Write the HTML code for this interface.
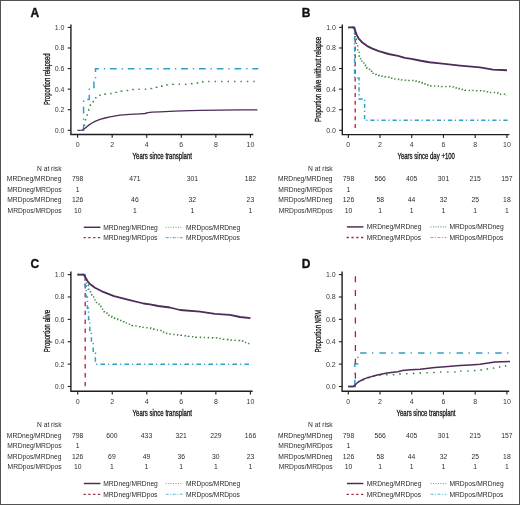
<!DOCTYPE html>
<html><head><meta charset="utf-8"><title>Figure</title>
<style>
html,body{margin:0;padding:0;background:#fff;}
svg{display:block;font-family:"Liberation Sans", sans-serif;will-change:transform;filter:blur(0.35px);}
</style></head>
<body>
<svg width="520" height="505" viewBox="0 0 520 505">
<rect x="0" y="0" width="520" height="505" fill="#fff"/>
<path d="M70.9 24.4 V134.5 H253.3" fill="none" stroke="#1e1e1e" stroke-width="1.4"/>
<line x1="67.7" y1="130.30" x2="70.9" y2="130.30" stroke="#1e1e1e" stroke-width="1.1"/>
<text x="64.5" y="132.70" font-size="7" text-anchor="end" fill="#383838" font-weight="normal">0.0</text>
<line x1="67.7" y1="109.72" x2="70.9" y2="109.72" stroke="#1e1e1e" stroke-width="1.1"/>
<text x="64.5" y="112.12" font-size="7" text-anchor="end" fill="#383838" font-weight="normal">0.2</text>
<line x1="67.7" y1="89.14" x2="70.9" y2="89.14" stroke="#1e1e1e" stroke-width="1.1"/>
<text x="64.5" y="91.54" font-size="7" text-anchor="end" fill="#383838" font-weight="normal">0.4</text>
<line x1="67.7" y1="68.56" x2="70.9" y2="68.56" stroke="#1e1e1e" stroke-width="1.1"/>
<text x="64.5" y="70.96" font-size="7" text-anchor="end" fill="#383838" font-weight="normal">0.6</text>
<line x1="67.7" y1="47.98" x2="70.9" y2="47.98" stroke="#1e1e1e" stroke-width="1.1"/>
<text x="64.5" y="50.38" font-size="7" text-anchor="end" fill="#383838" font-weight="normal">0.8</text>
<line x1="67.7" y1="27.40" x2="70.9" y2="27.40" stroke="#1e1e1e" stroke-width="1.1"/>
<text x="64.5" y="29.80" font-size="7" text-anchor="end" fill="#383838" font-weight="normal">1.0</text>
<line x1="77.60" y1="134.5" x2="77.60" y2="137.8" stroke="#1e1e1e" stroke-width="1.1"/>
<text x="77.60" y="147.10" font-size="7" text-anchor="middle" fill="#383838" font-weight="normal">0</text>
<line x1="112.16" y1="134.5" x2="112.16" y2="137.8" stroke="#1e1e1e" stroke-width="1.1"/>
<text x="112.16" y="147.10" font-size="7" text-anchor="middle" fill="#383838" font-weight="normal">2</text>
<line x1="146.72" y1="134.5" x2="146.72" y2="137.8" stroke="#1e1e1e" stroke-width="1.1"/>
<text x="146.72" y="147.10" font-size="7" text-anchor="middle" fill="#383838" font-weight="normal">4</text>
<line x1="181.28" y1="134.5" x2="181.28" y2="137.8" stroke="#1e1e1e" stroke-width="1.1"/>
<text x="181.28" y="147.10" font-size="7" text-anchor="middle" fill="#383838" font-weight="normal">6</text>
<line x1="215.84" y1="134.5" x2="215.84" y2="137.8" stroke="#1e1e1e" stroke-width="1.1"/>
<text x="215.84" y="147.10" font-size="7" text-anchor="middle" fill="#383838" font-weight="normal">8</text>
<line x1="250.40" y1="134.5" x2="250.40" y2="137.8" stroke="#1e1e1e" stroke-width="1.1"/>
<text x="250.40" y="147.10" font-size="7" text-anchor="middle" fill="#383838" font-weight="normal">10</text>
<text x="30.6" y="17.3" font-size="12" text-anchor="start" fill="#111" font-weight="bold" stroke="#111" stroke-width="0.35">A</text>
<text transform="translate(49.9 79.3) rotate(-90)" x="0" y="0" font-size="9" text-anchor="middle" fill="#1a1a1a" stroke="#1a1a1a" stroke-width="0.32" textLength="51.5" lengthAdjust="spacingAndGlyphs">Proportion relapsed</text>
<text x="162.3" y="159.3" font-size="8.6" text-anchor="middle" fill="#1a1a1a" stroke="#1a1a1a" stroke-width="0.32" textLength="59.4" lengthAdjust="spacingAndGlyphs">Years since transplant</text>
<path d="M77.50 130.30 L79.08 130.30 L80.65 130.30 L82.22 130.30 L83.80 130.30 L84.50 130.30 L84.50 124.00 L85.50 124.00 L85.50 118.70 L87.20 118.70 L87.20 114.00 L88.80 114.00 L88.80 109.50 L90.40 109.50 L90.40 104.80 L91.85 104.80 L91.85 103.00 L93.30 103.00 L93.30 101.20 L94.55 101.20 L94.55 98.95 L95.80 98.95 L95.80 96.70 L97.47 96.70 L97.47 96.03 L99.13 96.03 L99.13 95.37 L100.80 95.37 L100.80 94.70 L102.37 94.70 L102.37 94.30 L103.93 94.30 L103.93 93.90 L105.50 93.90 L105.50 93.50 L107.03 93.50 L108.55 93.50 L110.07 93.50 L111.60 93.50 L113.23 93.50 L113.23 92.87 L114.87 92.87 L114.87 92.23 L116.50 92.23 L116.50 91.60 L117.85 91.60 L117.85 91.38 L119.20 91.38 L119.20 91.15 L120.55 91.15 L120.55 90.92 L121.90 90.92 L121.90 90.70 L123.38 90.70 L123.38 90.62 L124.85 90.62 L124.85 90.55 L126.33 90.55 L126.33 90.48 L127.80 90.48 L127.80 90.40 L129.22 90.40 L129.22 90.12 L130.65 90.12 L130.65 89.85 L132.07 89.85 L132.07 89.58 L133.50 89.58 L133.50 89.30 L135.07 89.30 L136.65 89.30 L138.22 89.30 L139.80 89.30 L141.38 89.30 L142.95 89.30 L144.53 89.30 L146.10 89.30 L147.47 89.30 L147.47 89.00 L148.85 89.00 L148.85 88.70 L150.22 88.70 L150.22 88.40 L151.60 88.40 L151.60 88.10 L153.33 88.10 L153.33 87.67 L155.07 87.67 L155.07 87.23 L156.80 87.23 L156.80 86.80 L158.50 86.80 L158.50 86.47 L160.20 86.47 L160.20 86.13 L161.90 86.13 L161.90 85.80 L163.25 85.80 L163.25 85.47 L164.60 85.47 L164.60 85.15 L165.95 85.15 L165.95 84.83 L167.30 84.83 L167.30 84.50 L168.85 84.50 L168.85 84.45 L170.40 84.45 L170.40 84.40 L171.95 84.40 L171.95 84.35 L173.50 84.35 L173.50 84.30 L174.93 84.30 L176.37 84.30 L177.80 84.30 L179.23 84.30 L180.67 84.30 L182.10 84.30 L183.53 84.30 L184.97 84.30 L186.40 84.30 L187.81 84.30 L187.81 84.11 L189.22 84.11 L189.22 83.92 L190.64 83.92 L190.64 83.74 L192.05 83.74 L192.05 83.55 L193.46 83.55 L193.46 83.36 L194.88 83.36 L194.88 83.17 L196.29 83.17 L196.29 82.99 L197.70 82.99 L197.70 82.80 L199.43 82.80 L199.43 82.40 L201.17 82.40 L201.17 82.00 L202.90 82.00 L202.90 81.60 L204.41 81.60 L205.91 81.60 L207.42 81.60 L208.92 81.60 L210.43 81.60 L211.93 81.60 L213.44 81.60 L214.95 81.60 L216.45 81.60 L217.96 81.60 L219.46 81.60 L220.97 81.60 L222.47 81.60 L223.98 81.60 L225.49 81.60 L226.99 81.60 L228.50 81.60 L230.00 81.60 L231.51 81.60 L233.01 81.60 L234.52 81.60 L236.03 81.60 L237.53 81.60 L239.04 81.60 L240.54 81.60 L242.05 81.60 L243.55 81.60 L245.06 81.60 L246.57 81.60 L248.07 81.60 L249.58 81.60 L251.08 81.60 L252.59 81.60 L254.09 81.60 L255.60 81.60" fill="none" stroke="#3d863c" stroke-width="1.5" stroke-dasharray="1.4 5.06" stroke-dashoffset="1.51"/>
<path d="M77.50 130.30 L83.60 130.30 L83.60 99.50 L89.30 99.50 L89.30 89.20 L93.90 89.20 L93.90 78.90 L95.50 78.90 L95.50 68.70 L258.30 68.70" fill="none" stroke="#30a0c8" stroke-width="1.5" stroke-dasharray="6.8 4.9 1.3 4.8" stroke-dashoffset="12.80"/>
<path d="M77.50 130.30 L82.20 130.20 L85.00 128.20 L88.40 125.40 L92.00 123.00 L95.00 121.40 L100.00 119.30 L105.00 118.00 L110.00 116.90 L120.00 115.10 L130.00 114.40 L140.00 113.80 L145.00 113.50 L148.00 112.60 L152.00 112.10 L160.00 111.90 L175.00 111.20 L190.00 110.60 L200.00 110.40 L220.00 110.20 L240.00 109.80 L257.40 109.80" fill="none" stroke="#4d2c5a" stroke-width="1.35" stroke-linejoin="round"/>
<text x="61.5" y="170.5" font-size="6.7" text-anchor="end" fill="#2c2c2c" font-weight="normal">N at risk</text>
<text x="61.5" y="181.1" font-size="6.7" text-anchor="end" fill="#2c2c2c" font-weight="normal">MRDneg/MRDneg</text>
<text x="77.70" y="181.1" font-size="6.8" text-anchor="middle" fill="#2c2c2c" font-weight="normal">798</text>
<text x="134.90" y="181.1" font-size="6.8" text-anchor="middle" fill="#2c2c2c" font-weight="normal">471</text>
<text x="192.30" y="181.1" font-size="6.8" text-anchor="middle" fill="#2c2c2c" font-weight="normal">301</text>
<text x="250.40" y="181.1" font-size="6.8" text-anchor="middle" fill="#2c2c2c" font-weight="normal">182</text>
<text x="61.5" y="191.6" font-size="6.7" text-anchor="end" fill="#2c2c2c" font-weight="normal">MRDneg/MRDpos</text>
<text x="77.70" y="191.6" font-size="6.8" text-anchor="middle" fill="#2c2c2c" font-weight="normal">1</text>
<text x="61.5" y="202.1" font-size="6.7" text-anchor="end" fill="#2c2c2c" font-weight="normal">MRDpos/MRDneg</text>
<text x="77.70" y="202.1" font-size="6.8" text-anchor="middle" fill="#2c2c2c" font-weight="normal">126</text>
<text x="134.90" y="202.1" font-size="6.8" text-anchor="middle" fill="#2c2c2c" font-weight="normal">46</text>
<text x="192.30" y="202.1" font-size="6.8" text-anchor="middle" fill="#2c2c2c" font-weight="normal">32</text>
<text x="250.40" y="202.1" font-size="6.8" text-anchor="middle" fill="#2c2c2c" font-weight="normal">23</text>
<text x="61.5" y="212.6" font-size="6.7" text-anchor="end" fill="#2c2c2c" font-weight="normal">MRDpos/MRDpos</text>
<text x="77.70" y="212.6" font-size="6.8" text-anchor="middle" fill="#2c2c2c" font-weight="normal">10</text>
<text x="134.90" y="212.6" font-size="6.8" text-anchor="middle" fill="#2c2c2c" font-weight="normal">1</text>
<text x="192.30" y="212.6" font-size="6.8" text-anchor="middle" fill="#2c2c2c" font-weight="normal">1</text>
<text x="250.40" y="212.6" font-size="6.8" text-anchor="middle" fill="#2c2c2c" font-weight="normal">1</text>
<line x1="83.8" y1="227.3" x2="100.4" y2="227.3" stroke="#4a2a58" stroke-width="1.45"/>
<line x1="83.5" y1="237.6" x2="100.4" y2="237.6" stroke="#a02848" stroke-width="1.3" stroke-dasharray="2.3 2.5"/>
<line x1="165.7" y1="227.3" x2="183" y2="227.3" stroke="#3d863c" stroke-width="1.1" stroke-dasharray="1 1.45" opacity="0.75"/>
<line x1="165.7" y1="237.6" x2="183" y2="237.6" stroke="#30a0c8" stroke-width="1.1" stroke-dasharray="3 1.5 1 1.5" opacity="0.75"/>
<text x="103.2" y="229.70000000000002" font-size="6.7" text-anchor="start" fill="#2a2a2a" font-weight="normal">MRDneg/MRDneg</text>
<text x="103.2" y="240.0" font-size="6.7" text-anchor="start" fill="#2a2a2a" font-weight="normal">MRDneg/MRDpos</text>
<text x="186" y="229.70000000000002" font-size="6.7" text-anchor="start" fill="#2a2a2a" font-weight="normal">MRDpos/MRDneg</text>
<text x="186" y="240.0" font-size="6.7" text-anchor="start" fill="#2a2a2a" font-weight="normal">MRDpos/MRDpos</text>
<path d="M342.3 24.4 V134.6 H509.4" fill="none" stroke="#1e1e1e" stroke-width="1.4"/>
<line x1="339.1" y1="130.30" x2="342.3" y2="130.30" stroke="#1e1e1e" stroke-width="1.1"/>
<text x="335.90000000000003" y="132.70" font-size="7" text-anchor="end" fill="#383838" font-weight="normal">0.0</text>
<line x1="339.1" y1="109.72" x2="342.3" y2="109.72" stroke="#1e1e1e" stroke-width="1.1"/>
<text x="335.90000000000003" y="112.12" font-size="7" text-anchor="end" fill="#383838" font-weight="normal">0.2</text>
<line x1="339.1" y1="89.14" x2="342.3" y2="89.14" stroke="#1e1e1e" stroke-width="1.1"/>
<text x="335.90000000000003" y="91.54" font-size="7" text-anchor="end" fill="#383838" font-weight="normal">0.4</text>
<line x1="339.1" y1="68.56" x2="342.3" y2="68.56" stroke="#1e1e1e" stroke-width="1.1"/>
<text x="335.90000000000003" y="70.96" font-size="7" text-anchor="end" fill="#383838" font-weight="normal">0.6</text>
<line x1="339.1" y1="47.98" x2="342.3" y2="47.98" stroke="#1e1e1e" stroke-width="1.1"/>
<text x="335.90000000000003" y="50.38" font-size="7" text-anchor="end" fill="#383838" font-weight="normal">0.8</text>
<line x1="339.1" y1="27.40" x2="342.3" y2="27.40" stroke="#1e1e1e" stroke-width="1.1"/>
<text x="335.90000000000003" y="29.80" font-size="7" text-anchor="end" fill="#383838" font-weight="normal">1.0</text>
<line x1="348.30" y1="134.6" x2="348.30" y2="137.9" stroke="#1e1e1e" stroke-width="1.1"/>
<text x="348.30" y="147.20" font-size="7" text-anchor="middle" fill="#383838" font-weight="normal">0</text>
<line x1="380.02" y1="134.6" x2="380.02" y2="137.9" stroke="#1e1e1e" stroke-width="1.1"/>
<text x="380.02" y="147.20" font-size="7" text-anchor="middle" fill="#383838" font-weight="normal">2</text>
<line x1="411.74" y1="134.6" x2="411.74" y2="137.9" stroke="#1e1e1e" stroke-width="1.1"/>
<text x="411.74" y="147.20" font-size="7" text-anchor="middle" fill="#383838" font-weight="normal">4</text>
<line x1="443.46" y1="134.6" x2="443.46" y2="137.9" stroke="#1e1e1e" stroke-width="1.1"/>
<text x="443.46" y="147.20" font-size="7" text-anchor="middle" fill="#383838" font-weight="normal">6</text>
<line x1="475.18" y1="134.6" x2="475.18" y2="137.9" stroke="#1e1e1e" stroke-width="1.1"/>
<text x="475.18" y="147.20" font-size="7" text-anchor="middle" fill="#383838" font-weight="normal">8</text>
<line x1="506.90" y1="134.6" x2="506.90" y2="137.9" stroke="#1e1e1e" stroke-width="1.1"/>
<text x="506.90" y="147.20" font-size="7" text-anchor="middle" fill="#383838" font-weight="normal">10</text>
<text x="301.8" y="17.3" font-size="12" text-anchor="start" fill="#111" font-weight="bold" stroke="#111" stroke-width="0.35">B</text>
<text transform="translate(321.0 79.4) rotate(-90)" x="0" y="0" font-size="9" text-anchor="middle" fill="#1a1a1a" stroke="#1a1a1a" stroke-width="0.32" textLength="85" lengthAdjust="spacingAndGlyphs">Proportion alive without relapse</text>
<text x="426.2" y="159.3" font-size="8.6" text-anchor="middle" fill="#1a1a1a" stroke="#1a1a1a" stroke-width="0.32" textLength="57.5" lengthAdjust="spacingAndGlyphs">Years since day +100</text>
<path d="M348.30 27.40 L355.20 27.40 L355.20 130.30" fill="none" stroke="#b51a40" stroke-width="1.3" stroke-dasharray="4 3.75" stroke-dashoffset="5.00"/>
<path d="M348.30 27.40 L349.68 27.40 L351.05 27.40 L352.43 27.40 L353.80 27.40 L354.50 27.40 L354.50 33.00 L355.30 33.00 L355.30 39.00 L356.30 39.00 L356.30 45.00 L357.70 45.00 L357.70 50.60 L359.10 50.60 L359.10 55.90 L360.60 55.90 L360.60 59.70 L362.00 59.70 L362.00 62.10 L363.90 62.10 L363.90 65.00 L365.40 65.00 L365.40 67.40 L366.85 67.40 L366.85 68.35 L368.30 68.35 L368.30 69.30 L369.50 69.30 L369.50 70.30 L370.70 70.30 L370.70 71.30 L371.90 71.30 L371.90 72.70 L373.10 72.70 L373.10 74.10 L374.70 74.10 L374.70 74.60 L376.30 74.60 L376.30 75.10 L377.90 75.10 L377.90 75.60 L379.17 75.60 L379.17 75.77 L380.43 75.77 L380.43 75.93 L381.70 75.93 L381.70 76.10 L383.30 76.10 L383.30 76.40 L384.90 76.40 L384.90 76.70 L386.50 76.70 L386.50 77.00 L387.80 77.00 L387.80 77.33 L389.10 77.33 L389.10 77.67 L390.40 77.67 L390.40 78.00 L391.67 78.00 L391.67 78.30 L392.93 78.30 L392.93 78.60 L394.20 78.60 L394.20 78.90 L395.75 78.90 L395.75 79.05 L397.30 79.05 L397.30 79.20 L398.68 79.20 L398.68 79.42 L400.06 79.42 L400.06 79.64 L401.44 79.64 L401.44 79.86 L402.82 79.86 L402.82 80.08 L404.20 80.08 L404.20 80.30 L405.67 80.30 L405.67 80.35 L407.13 80.35 L407.13 80.40 L408.60 80.40 L408.60 80.45 L410.07 80.45 L410.07 80.50 L411.53 80.50 L411.53 80.55 L413.00 80.55 L413.00 80.60 L414.40 80.60 L414.40 80.80 L415.80 80.80 L415.80 81.00 L417.30 81.00 L417.30 81.40 L418.80 81.40 L418.80 81.80 L420.47 81.80 L420.47 82.47 L422.13 82.47 L422.13 83.13 L423.80 83.13 L423.80 83.80 L425.15 83.80 L425.15 84.30 L426.50 84.30 L426.50 84.80 L427.85 84.80 L427.85 85.30 L429.20 85.30 L429.20 85.80 L430.74 85.80 L430.74 85.89 L432.29 85.89 L432.29 85.97 L433.83 85.97 L433.83 86.06 L435.37 86.06 L435.37 86.14 L436.91 86.14 L436.91 86.23 L438.46 86.23 L438.46 86.31 L440.00 86.31 L440.00 86.40 L441.43 86.40 L441.43 86.43 L442.86 86.43 L442.86 86.46 L444.29 86.46 L444.29 86.49 L445.71 86.49 L445.71 86.51 L447.14 86.51 L447.14 86.54 L448.57 86.54 L448.57 86.57 L450.00 86.57 L450.00 86.60 L451.67 86.60 L451.67 87.03 L453.33 87.03 L453.33 87.47 L455.00 87.47 L455.00 87.90 L456.43 87.90 L456.43 88.24 L457.86 88.24 L457.86 88.59 L459.29 88.59 L459.29 88.93 L460.71 88.93 L460.71 89.27 L462.14 89.27 L462.14 89.61 L463.57 89.61 L463.57 89.96 L465.00 89.96 L465.00 90.30 L466.44 90.30 L466.44 90.35 L467.88 90.35 L467.88 90.40 L469.32 90.40 L469.32 90.45 L470.77 90.45 L470.77 90.50 L472.21 90.50 L472.21 90.55 L473.65 90.55 L473.65 90.60 L475.09 90.60 L475.09 90.65 L476.53 90.65 L476.53 90.70 L477.98 90.70 L477.98 90.75 L479.42 90.75 L479.42 90.80 L480.86 90.80 L480.86 90.85 L482.30 90.85 L482.30 90.90 L484.05 90.90 L484.05 91.30 L485.80 91.30 L485.80 91.70 L487.50 91.70 L487.50 92.10 L489.20 92.10 L489.20 92.50 L490.66 92.50 L492.12 92.50 L493.58 92.50 L495.04 92.50 L496.50 92.50 L497.85 92.50 L497.85 93.35 L499.20 93.35 L499.20 94.20 L500.47 94.20 L501.73 94.20 L503.00 94.20 L504.60 94.20 L504.60 95.15 L506.20 95.15 L506.20 96.10" fill="none" stroke="#3d863c" stroke-width="1.5" stroke-dasharray="1.3 2.60" stroke-dashoffset="0.00"/>
<path d="M348.30 27.40 L354.60 27.40 L354.60 78.00 L359.00 78.00 L359.00 99.00 L364.60 99.00 L364.60 120.30 L508.00 120.30" fill="none" stroke="#30a0c8" stroke-width="1.5" stroke-dasharray="4.2 2.7 1.2 2.98" stroke-dashoffset="6.90"/>
<path d="M348.30 27.40 L353.60 27.40 L354.60 28.60 L355.50 31.50 L356.50 34.30 L358.50 38.40 L362.40 42.60 L367.30 46.10 L372.40 48.70 L378.80 51.10 L388.50 54.00 L398.00 55.90 L404.80 57.90 L411.50 58.90 L420.80 60.80 L429.20 62.30 L440.00 63.40 L460.00 65.60 L480.00 67.40 L493.00 69.60 L507.00 70.20" fill="none" stroke="#4d2c5a" stroke-width="1.9" stroke-linejoin="round"/>
<text x="332.6" y="170.5" font-size="6.7" text-anchor="end" fill="#2c2c2c" font-weight="normal">N at risk</text>
<text x="332.6" y="181.1" font-size="6.7" text-anchor="end" fill="#2c2c2c" font-weight="normal">MRDneg/MRDneg</text>
<text x="348.50" y="181.1" font-size="6.8" text-anchor="middle" fill="#2c2c2c" font-weight="normal">798</text>
<text x="380.20" y="181.1" font-size="6.8" text-anchor="middle" fill="#2c2c2c" font-weight="normal">566</text>
<text x="411.60" y="181.1" font-size="6.8" text-anchor="middle" fill="#2c2c2c" font-weight="normal">405</text>
<text x="443.50" y="181.1" font-size="6.8" text-anchor="middle" fill="#2c2c2c" font-weight="normal">301</text>
<text x="475.20" y="181.1" font-size="6.8" text-anchor="middle" fill="#2c2c2c" font-weight="normal">215</text>
<text x="506.90" y="181.1" font-size="6.8" text-anchor="middle" fill="#2c2c2c" font-weight="normal">157</text>
<text x="332.6" y="191.6" font-size="6.7" text-anchor="end" fill="#2c2c2c" font-weight="normal">MRDneg/MRDpos</text>
<text x="348.50" y="191.6" font-size="6.8" text-anchor="middle" fill="#2c2c2c" font-weight="normal">1</text>
<text x="332.6" y="202.1" font-size="6.7" text-anchor="end" fill="#2c2c2c" font-weight="normal">MRDpos/MRDneg</text>
<text x="348.50" y="202.1" font-size="6.8" text-anchor="middle" fill="#2c2c2c" font-weight="normal">126</text>
<text x="380.20" y="202.1" font-size="6.8" text-anchor="middle" fill="#2c2c2c" font-weight="normal">58</text>
<text x="411.60" y="202.1" font-size="6.8" text-anchor="middle" fill="#2c2c2c" font-weight="normal">44</text>
<text x="443.50" y="202.1" font-size="6.8" text-anchor="middle" fill="#2c2c2c" font-weight="normal">32</text>
<text x="475.20" y="202.1" font-size="6.8" text-anchor="middle" fill="#2c2c2c" font-weight="normal">25</text>
<text x="506.90" y="202.1" font-size="6.8" text-anchor="middle" fill="#2c2c2c" font-weight="normal">18</text>
<text x="332.6" y="212.6" font-size="6.7" text-anchor="end" fill="#2c2c2c" font-weight="normal">MRDpos/MRDpos</text>
<text x="348.50" y="212.6" font-size="6.8" text-anchor="middle" fill="#2c2c2c" font-weight="normal">10</text>
<text x="380.20" y="212.6" font-size="6.8" text-anchor="middle" fill="#2c2c2c" font-weight="normal">1</text>
<text x="411.60" y="212.6" font-size="6.8" text-anchor="middle" fill="#2c2c2c" font-weight="normal">1</text>
<text x="443.50" y="212.6" font-size="6.8" text-anchor="middle" fill="#2c2c2c" font-weight="normal">1</text>
<text x="475.20" y="212.6" font-size="6.8" text-anchor="middle" fill="#2c2c2c" font-weight="normal">1</text>
<text x="506.90" y="212.6" font-size="6.8" text-anchor="middle" fill="#2c2c2c" font-weight="normal">1</text>
<line x1="346.9" y1="226.9" x2="363.4" y2="226.9" stroke="#4a2a58" stroke-width="1.45"/>
<line x1="346.59999999999997" y1="237.5" x2="363.4" y2="237.5" stroke="#a02848" stroke-width="1.3" stroke-dasharray="2.3 2.5"/>
<line x1="430.5" y1="226.9" x2="446.4" y2="226.9" stroke="#3d863c" stroke-width="1.1" stroke-dasharray="1 1.45" opacity="0.75"/>
<line x1="430.5" y1="237.5" x2="446.4" y2="237.5" stroke="#30a0c8" stroke-width="1.1" stroke-dasharray="3 1.5 1 1.5" opacity="0.75"/>
<text x="366.8" y="229.3" font-size="6.7" text-anchor="start" fill="#2a2a2a" font-weight="normal">MRDneg/MRDneg</text>
<text x="366.8" y="239.9" font-size="6.7" text-anchor="start" fill="#2a2a2a" font-weight="normal">MRDneg/MRDpos</text>
<text x="449.4" y="229.3" font-size="6.7" text-anchor="start" fill="#2a2a2a" font-weight="normal">MRDpos/MRDneg</text>
<text x="449.4" y="239.9" font-size="6.7" text-anchor="start" fill="#2a2a2a" font-weight="normal">MRDpos/MRDpos</text>
<path d="M70.9 271.4 V391.2 H252.6" fill="none" stroke="#1e1e1e" stroke-width="1.4"/>
<line x1="67.7" y1="386.50" x2="70.9" y2="386.50" stroke="#1e1e1e" stroke-width="1.1"/>
<text x="64.5" y="388.90" font-size="7" text-anchor="end" fill="#383838" font-weight="normal">0.0</text>
<line x1="67.7" y1="364.12" x2="70.9" y2="364.12" stroke="#1e1e1e" stroke-width="1.1"/>
<text x="64.5" y="366.52" font-size="7" text-anchor="end" fill="#383838" font-weight="normal">0.2</text>
<line x1="67.7" y1="341.74" x2="70.9" y2="341.74" stroke="#1e1e1e" stroke-width="1.1"/>
<text x="64.5" y="344.14" font-size="7" text-anchor="end" fill="#383838" font-weight="normal">0.4</text>
<line x1="67.7" y1="319.36" x2="70.9" y2="319.36" stroke="#1e1e1e" stroke-width="1.1"/>
<text x="64.5" y="321.76" font-size="7" text-anchor="end" fill="#383838" font-weight="normal">0.6</text>
<line x1="67.7" y1="296.98" x2="70.9" y2="296.98" stroke="#1e1e1e" stroke-width="1.1"/>
<text x="64.5" y="299.38" font-size="7" text-anchor="end" fill="#383838" font-weight="normal">0.8</text>
<line x1="67.7" y1="274.60" x2="70.9" y2="274.60" stroke="#1e1e1e" stroke-width="1.1"/>
<text x="64.5" y="277.00" font-size="7" text-anchor="end" fill="#383838" font-weight="normal">1.0</text>
<line x1="77.70" y1="391.2" x2="77.70" y2="394.5" stroke="#1e1e1e" stroke-width="1.1"/>
<text x="77.70" y="403.80" font-size="7" text-anchor="middle" fill="#383838" font-weight="normal">0</text>
<line x1="112.24" y1="391.2" x2="112.24" y2="394.5" stroke="#1e1e1e" stroke-width="1.1"/>
<text x="112.24" y="403.80" font-size="7" text-anchor="middle" fill="#383838" font-weight="normal">2</text>
<line x1="146.78" y1="391.2" x2="146.78" y2="394.5" stroke="#1e1e1e" stroke-width="1.1"/>
<text x="146.78" y="403.80" font-size="7" text-anchor="middle" fill="#383838" font-weight="normal">4</text>
<line x1="181.32" y1="391.2" x2="181.32" y2="394.5" stroke="#1e1e1e" stroke-width="1.1"/>
<text x="181.32" y="403.80" font-size="7" text-anchor="middle" fill="#383838" font-weight="normal">6</text>
<line x1="215.86" y1="391.2" x2="215.86" y2="394.5" stroke="#1e1e1e" stroke-width="1.1"/>
<text x="215.86" y="403.80" font-size="7" text-anchor="middle" fill="#383838" font-weight="normal">8</text>
<line x1="250.40" y1="391.2" x2="250.40" y2="394.5" stroke="#1e1e1e" stroke-width="1.1"/>
<text x="250.40" y="403.80" font-size="7" text-anchor="middle" fill="#383838" font-weight="normal">10</text>
<text x="30.6" y="267.5" font-size="12" text-anchor="start" fill="#111" font-weight="bold" stroke="#111" stroke-width="0.35">C</text>
<text transform="translate(49.9 331) rotate(-90)" x="0" y="0" font-size="9" text-anchor="middle" fill="#1a1a1a" stroke="#1a1a1a" stroke-width="0.32" textLength="42.3" lengthAdjust="spacingAndGlyphs">Proportion alive</text>
<text x="162.3" y="415.5" font-size="8.6" text-anchor="middle" fill="#1a1a1a" stroke="#1a1a1a" stroke-width="0.32" textLength="59.4" lengthAdjust="spacingAndGlyphs">Years since transplant</text>
<path d="M77.60 274.60 L85.20 274.60 L85.20 386.50" fill="none" stroke="#b51a40" stroke-width="1.3" stroke-dasharray="4.4 4.5" stroke-dashoffset="0.80"/>
<path d="M77.60 274.60 L79.15 274.60 L80.70 274.60 L82.25 274.60 L83.80 274.60 L85.20 274.60 L85.20 280.00 L86.50 280.00 L86.50 285.00 L88.30 285.00 L88.30 289.20 L90.50 289.20 L90.50 293.00 L91.75 293.00 L91.75 295.00 L93.00 295.00 L93.00 297.00 L95.00 297.00 L95.00 300.50 L96.45 300.50 L96.45 302.38 L97.90 302.38 L97.90 304.25 L99.35 304.25 L99.35 306.12 L100.80 306.12 L100.80 308.00 L102.55 308.00 L102.55 310.00 L104.30 310.00 L104.30 312.00 L105.87 312.00 L105.87 313.17 L107.43 313.17 L107.43 314.33 L109.00 314.33 L109.00 315.50 L110.40 315.50 L110.40 316.23 L111.80 316.23 L111.80 316.95 L113.20 316.95 L113.20 317.67 L114.60 317.67 L114.60 318.40 L116.15 318.40 L116.15 319.08 L117.70 319.08 L117.70 319.77 L119.25 319.77 L119.25 320.45 L120.80 320.45 L120.80 321.13 L122.35 321.13 L122.35 321.82 L123.90 321.82 L123.90 322.50 L125.50 322.50 L125.50 323.08 L127.10 323.08 L127.10 323.66 L128.70 323.66 L128.70 324.24 L130.30 324.24 L130.30 324.82 L131.90 324.82 L131.90 325.40 L133.52 325.40 L133.52 325.72 L135.14 325.72 L135.14 326.04 L136.76 326.04 L136.76 326.36 L138.38 326.36 L138.38 326.68 L140.00 326.68 L140.00 327.00 L141.53 327.00 L141.53 327.18 L143.07 327.18 L143.07 327.37 L144.60 327.37 L144.60 327.55 L146.13 327.55 L146.13 327.73 L147.67 327.73 L147.67 327.92 L149.20 327.92 L149.20 328.10 L150.69 328.10 L150.69 328.46 L152.17 328.46 L152.17 328.81 L153.66 328.81 L153.66 329.17 L155.14 329.17 L155.14 329.53 L156.63 329.53 L156.63 329.89 L158.11 329.89 L158.11 330.24 L159.60 330.24 L159.60 330.60 L160.95 330.60 L160.95 331.28 L162.30 331.28 L162.30 331.95 L163.65 331.95 L163.65 332.62 L165.00 332.62 L165.00 333.30 L166.67 333.30 L166.67 333.53 L168.33 333.53 L168.33 333.77 L170.00 333.77 L170.00 334.00 L171.53 334.00 L171.53 334.19 L173.07 334.19 L173.07 334.38 L174.60 334.38 L174.60 334.57 L176.13 334.57 L176.13 334.76 L177.67 334.76 L177.67 334.94 L179.20 334.94 L179.20 335.13 L180.73 335.13 L180.73 335.32 L182.27 335.32 L182.27 335.51 L183.80 335.51 L183.80 335.70 L185.30 335.70 L185.30 335.89 L186.80 335.89 L186.80 336.07 L188.30 336.07 L188.30 336.26 L189.80 336.26 L189.80 336.45 L191.30 336.45 L191.30 336.64 L192.80 336.64 L192.80 336.82 L194.30 336.82 L194.30 337.01 L195.80 337.01 L195.80 337.20 L197.37 337.20 L197.37 337.26 L198.94 337.26 L198.94 337.32 L200.51 337.32 L200.51 337.38 L202.08 337.38 L202.08 337.44 L203.65 337.44 L203.65 337.50 L205.22 337.50 L205.22 337.56 L206.79 337.56 L206.79 337.62 L208.36 337.62 L208.36 337.68 L209.93 337.68 L209.93 337.74 L211.50 337.74 L211.50 337.80 L212.88 337.80 L212.88 337.88 L214.26 337.88 L214.26 337.96 L215.64 337.96 L215.64 338.04 L217.02 338.04 L217.02 338.12 L218.40 338.12 L218.40 338.20 L220.05 338.20 L220.05 338.52 L221.70 338.52 L221.70 338.85 L223.35 338.85 L223.35 339.18 L225.00 339.18 L225.00 339.50 L226.43 339.50 L226.43 339.61 L227.86 339.61 L227.86 339.73 L229.29 339.73 L229.29 339.84 L230.71 339.84 L230.71 339.96 L232.14 339.96 L232.14 340.07 L233.57 340.07 L233.57 340.19 L235.00 340.19 L235.00 340.30 L236.52 340.30 L236.52 340.44 L238.04 340.44 L238.04 340.58 L239.56 340.58 L239.56 340.72 L241.08 340.72 L241.08 340.86 L242.60 340.86 L242.60 341.00 L243.80 341.00 L243.80 341.70 L245.00 341.70 L245.00 342.40 L246.50 342.40 L246.50 342.95 L248.00 342.95 L248.00 343.50 L249.50 343.50 L249.50 344.05 L251.00 344.05 L251.00 344.60" fill="none" stroke="#3d863c" stroke-width="1.5" stroke-dasharray="1.3 2.90" stroke-dashoffset="0.00"/>
<path d="M77.60 274.60 L85.00 274.60 L85.00 285.80 L86.20 285.80 L86.20 297.00 L87.40 297.00 L87.40 308.20 L88.60 308.20 L88.60 319.40 L89.80 319.40 L89.80 330.60 L91.40 330.60 L91.40 341.80 L93.20 341.80 L93.20 353.00 L95.40 353.00 L95.40 364.20 L251.30 364.20" fill="none" stroke="#30a0c8" stroke-width="1.5" stroke-dasharray="4.6 3.0 1.2 3.2" stroke-dashoffset="7.60"/>
<path d="M77.60 274.60 L83.50 274.60 L85.50 277.50 L87.50 281.00 L89.60 283.80 L95.00 287.80 L101.90 291.30 L114.00 296.20 L128.80 299.90 L143.50 303.50 L150.00 304.30 L158.20 306.00 L170.00 307.50 L180.00 310.00 L200.00 311.70 L215.00 313.80 L230.00 314.90 L240.00 317.00 L250.50 318.10" fill="none" stroke="#4d2c5a" stroke-width="1.8" stroke-linejoin="round"/>
<text x="61.5" y="427.2" font-size="6.7" text-anchor="end" fill="#2c2c2c" font-weight="normal">N at risk</text>
<text x="61.5" y="437.8" font-size="6.7" text-anchor="end" fill="#2c2c2c" font-weight="normal">MRDneg/MRDneg</text>
<text x="77.70" y="437.8" font-size="6.8" text-anchor="middle" fill="#2c2c2c" font-weight="normal">798</text>
<text x="111.90" y="437.8" font-size="6.8" text-anchor="middle" fill="#2c2c2c" font-weight="normal">600</text>
<text x="146.50" y="437.8" font-size="6.8" text-anchor="middle" fill="#2c2c2c" font-weight="normal">433</text>
<text x="181.20" y="437.8" font-size="6.8" text-anchor="middle" fill="#2c2c2c" font-weight="normal">321</text>
<text x="215.80" y="437.8" font-size="6.8" text-anchor="middle" fill="#2c2c2c" font-weight="normal">229</text>
<text x="250.50" y="437.8" font-size="6.8" text-anchor="middle" fill="#2c2c2c" font-weight="normal">166</text>
<text x="61.5" y="448.2" font-size="6.7" text-anchor="end" fill="#2c2c2c" font-weight="normal">MRDneg/MRDpos</text>
<text x="77.70" y="448.2" font-size="6.8" text-anchor="middle" fill="#2c2c2c" font-weight="normal">1</text>
<text x="61.5" y="458.6" font-size="6.7" text-anchor="end" fill="#2c2c2c" font-weight="normal">MRDpos/MRDneg</text>
<text x="77.70" y="458.6" font-size="6.8" text-anchor="middle" fill="#2c2c2c" font-weight="normal">126</text>
<text x="111.90" y="458.6" font-size="6.8" text-anchor="middle" fill="#2c2c2c" font-weight="normal">69</text>
<text x="146.50" y="458.6" font-size="6.8" text-anchor="middle" fill="#2c2c2c" font-weight="normal">49</text>
<text x="181.20" y="458.6" font-size="6.8" text-anchor="middle" fill="#2c2c2c" font-weight="normal">36</text>
<text x="215.80" y="458.6" font-size="6.8" text-anchor="middle" fill="#2c2c2c" font-weight="normal">30</text>
<text x="250.50" y="458.6" font-size="6.8" text-anchor="middle" fill="#2c2c2c" font-weight="normal">23</text>
<text x="61.5" y="469" font-size="6.7" text-anchor="end" fill="#2c2c2c" font-weight="normal">MRDpos/MRDpos</text>
<text x="77.70" y="469" font-size="6.8" text-anchor="middle" fill="#2c2c2c" font-weight="normal">10</text>
<text x="111.90" y="469" font-size="6.8" text-anchor="middle" fill="#2c2c2c" font-weight="normal">1</text>
<text x="146.50" y="469" font-size="6.8" text-anchor="middle" fill="#2c2c2c" font-weight="normal">1</text>
<text x="181.20" y="469" font-size="6.8" text-anchor="middle" fill="#2c2c2c" font-weight="normal">1</text>
<text x="215.80" y="469" font-size="6.8" text-anchor="middle" fill="#2c2c2c" font-weight="normal">1</text>
<text x="250.50" y="469" font-size="6.8" text-anchor="middle" fill="#2c2c2c" font-weight="normal">1</text>
<line x1="83.8" y1="483.5" x2="100.4" y2="483.5" stroke="#4a2a58" stroke-width="1.45"/>
<line x1="83.5" y1="494.3" x2="100.4" y2="494.3" stroke="#a02848" stroke-width="1.3" stroke-dasharray="2.3 2.5"/>
<line x1="165.7" y1="483.5" x2="183" y2="483.5" stroke="#3d863c" stroke-width="1.1" stroke-dasharray="1 1.45" opacity="0.75"/>
<line x1="165.7" y1="494.3" x2="183" y2="494.3" stroke="#30a0c8" stroke-width="1.1" stroke-dasharray="3 1.5 1 1.5" opacity="0.75"/>
<text x="103.2" y="485.9" font-size="6.7" text-anchor="start" fill="#2a2a2a" font-weight="normal">MRDneg/MRDneg</text>
<text x="103.2" y="496.7" font-size="6.7" text-anchor="start" fill="#2a2a2a" font-weight="normal">MRDneg/MRDpos</text>
<text x="186" y="485.9" font-size="6.7" text-anchor="start" fill="#2a2a2a" font-weight="normal">MRDpos/MRDneg</text>
<text x="186" y="496.7" font-size="6.7" text-anchor="start" fill="#2a2a2a" font-weight="normal">MRDpos/MRDpos</text>
<path d="M342.1 271.4 V391.3 H509.2" fill="none" stroke="#1e1e1e" stroke-width="1.4"/>
<line x1="338.90000000000003" y1="386.50" x2="342.1" y2="386.50" stroke="#1e1e1e" stroke-width="1.1"/>
<text x="335.70000000000005" y="388.90" font-size="7" text-anchor="end" fill="#383838" font-weight="normal">0.0</text>
<line x1="338.90000000000003" y1="364.12" x2="342.1" y2="364.12" stroke="#1e1e1e" stroke-width="1.1"/>
<text x="335.70000000000005" y="366.52" font-size="7" text-anchor="end" fill="#383838" font-weight="normal">0.2</text>
<line x1="338.90000000000003" y1="341.74" x2="342.1" y2="341.74" stroke="#1e1e1e" stroke-width="1.1"/>
<text x="335.70000000000005" y="344.14" font-size="7" text-anchor="end" fill="#383838" font-weight="normal">0.4</text>
<line x1="338.90000000000003" y1="319.36" x2="342.1" y2="319.36" stroke="#1e1e1e" stroke-width="1.1"/>
<text x="335.70000000000005" y="321.76" font-size="7" text-anchor="end" fill="#383838" font-weight="normal">0.6</text>
<line x1="338.90000000000003" y1="296.98" x2="342.1" y2="296.98" stroke="#1e1e1e" stroke-width="1.1"/>
<text x="335.70000000000005" y="299.38" font-size="7" text-anchor="end" fill="#383838" font-weight="normal">0.8</text>
<line x1="338.90000000000003" y1="274.60" x2="342.1" y2="274.60" stroke="#1e1e1e" stroke-width="1.1"/>
<text x="335.70000000000005" y="277.00" font-size="7" text-anchor="end" fill="#383838" font-weight="normal">1.0</text>
<line x1="348.30" y1="391.3" x2="348.30" y2="394.6" stroke="#1e1e1e" stroke-width="1.1"/>
<text x="348.30" y="403.90" font-size="7" text-anchor="middle" fill="#383838" font-weight="normal">0</text>
<line x1="380.02" y1="391.3" x2="380.02" y2="394.6" stroke="#1e1e1e" stroke-width="1.1"/>
<text x="380.02" y="403.90" font-size="7" text-anchor="middle" fill="#383838" font-weight="normal">2</text>
<line x1="411.74" y1="391.3" x2="411.74" y2="394.6" stroke="#1e1e1e" stroke-width="1.1"/>
<text x="411.74" y="403.90" font-size="7" text-anchor="middle" fill="#383838" font-weight="normal">4</text>
<line x1="443.46" y1="391.3" x2="443.46" y2="394.6" stroke="#1e1e1e" stroke-width="1.1"/>
<text x="443.46" y="403.90" font-size="7" text-anchor="middle" fill="#383838" font-weight="normal">6</text>
<line x1="475.18" y1="391.3" x2="475.18" y2="394.6" stroke="#1e1e1e" stroke-width="1.1"/>
<text x="475.18" y="403.90" font-size="7" text-anchor="middle" fill="#383838" font-weight="normal">8</text>
<line x1="506.90" y1="391.3" x2="506.90" y2="394.6" stroke="#1e1e1e" stroke-width="1.1"/>
<text x="506.90" y="403.90" font-size="7" text-anchor="middle" fill="#383838" font-weight="normal">10</text>
<text x="301.8" y="267.5" font-size="12" text-anchor="start" fill="#111" font-weight="bold" stroke="#111" stroke-width="0.35">D</text>
<text transform="translate(321.0 331.2) rotate(-90)" x="0" y="0" font-size="9" text-anchor="middle" fill="#1a1a1a" stroke="#1a1a1a" stroke-width="0.32" textLength="42.8" lengthAdjust="spacingAndGlyphs">Proportion NRM</text>
<text x="426" y="415.5" font-size="8.6" text-anchor="middle" fill="#1a1a1a" stroke="#1a1a1a" stroke-width="0.32" textLength="59" lengthAdjust="spacingAndGlyphs">Years since transplant</text>
<path d="M355.40 274.60 L355.40 386.50 L348.30 386.50" fill="none" stroke="#b51a40" stroke-width="1.3" stroke-dasharray="6 7.76" stroke-dashoffset="12.16"/>
<path d="M348.30 386.50 L349.55 386.50 L350.80 386.50 L352.05 386.50 L353.30 386.50 L354.25 386.50 L354.25 385.55 L355.20 385.55 L355.20 384.60 L356.10 384.60 L356.10 383.60 L357.00 383.60 L357.00 382.60 L358.50 382.60 L358.50 381.60 L360.00 381.60 L360.00 380.60 L361.10 380.60 L361.10 380.12 L362.20 380.12 L362.20 379.64 L363.30 379.64 L363.30 379.16 L364.40 379.16 L364.40 378.68 L365.50 378.68 L365.50 378.20 L366.70 378.20 L366.70 377.89 L367.90 377.89 L367.90 377.58 L369.10 377.58 L369.10 377.27 L370.30 377.27 L370.30 376.96 L371.50 376.96 L371.50 376.64 L372.70 376.64 L372.70 376.33 L373.90 376.33 L373.90 376.02 L375.10 376.02 L375.10 375.71 L376.30 375.71 L376.30 375.40 L377.48 375.40 L377.48 375.30 L378.65 375.30 L378.65 375.20 L379.82 375.20 L379.82 375.10 L381.00 375.10 L381.00 375.00 L382.18 375.00 L382.18 374.90 L383.35 374.90 L383.35 374.80 L384.52 374.80 L384.52 374.70 L385.70 374.70 L385.70 374.60 L386.96 374.60 L386.96 374.64 L388.22 374.64 L388.22 374.68 L389.48 374.68 L389.48 374.72 L390.74 374.72 L390.74 374.76 L392.00 374.76 L392.00 374.80 L393.28 374.80 L393.28 374.68 L394.57 374.68 L394.57 374.57 L395.85 374.57 L395.85 374.45 L397.13 374.45 L397.13 374.33 L398.42 374.33 L398.42 374.22 L399.70 374.22 L399.70 374.10 L400.86 374.10 L400.86 374.04 L402.03 374.04 L402.03 373.97 L403.19 373.97 L403.19 373.91 L404.35 373.91 L404.35 373.85 L405.52 373.85 L405.52 373.78 L406.68 373.78 L406.68 373.72 L407.85 373.72 L407.85 373.65 L409.01 373.65 L409.01 373.59 L410.17 373.59 L410.17 373.53 L411.34 373.53 L411.34 373.46 L412.50 373.46 L412.50 373.40 L413.75 373.40 L413.75 373.35 L415.00 373.35 L415.00 373.30 L416.25 373.30 L416.25 373.25 L417.50 373.25 L417.50 373.20 L418.75 373.20 L418.75 373.15 L420.00 373.15 L420.00 373.10 L421.18 373.10 L421.18 373.04 L422.35 373.04 L422.35 372.98 L423.53 372.98 L423.53 372.92 L424.71 372.92 L424.71 372.86 L425.88 372.86 L425.88 372.81 L427.06 372.81 L427.06 372.75 L428.24 372.75 L428.24 372.69 L429.41 372.69 L429.41 372.63 L430.59 372.63 L430.59 372.57 L431.76 372.57 L431.76 372.51 L432.94 372.51 L432.94 372.45 L434.12 372.45 L434.12 372.39 L435.29 372.39 L435.29 372.34 L436.47 372.34 L436.47 372.28 L437.65 372.28 L437.65 372.22 L438.82 372.22 L438.82 372.16 L440.00 372.16 L440.00 372.10 L441.25 372.10 L442.50 372.10 L443.75 372.10 L445.00 372.10 L446.25 372.10 L447.50 372.10 L448.75 372.10 L450.00 372.10 L451.25 372.10 L452.50 372.10 L453.75 372.10 L455.00 372.10 L456.33 372.10 L456.33 371.70 L457.67 371.70 L457.67 371.30 L459.00 371.30 L459.00 370.90 L460.22 370.90 L461.44 370.90 L462.67 370.90 L463.89 370.90 L465.11 370.90 L466.33 370.90 L467.56 370.90 L468.78 370.90 L470.00 370.90 L471.25 370.90 L471.25 370.77 L472.50 370.77 L472.50 370.65 L473.75 370.65 L473.75 370.52 L475.00 370.52 L475.00 370.40 L476.25 370.40 L476.25 370.27 L477.50 370.27 L477.50 370.15 L478.75 370.15 L478.75 370.02 L480.00 370.02 L480.00 369.90 L481.25 369.90 L481.25 369.72 L482.50 369.72 L482.50 369.53 L483.75 369.53 L483.75 369.35 L485.00 369.35 L485.00 369.17 L486.25 369.17 L486.25 368.98 L487.50 368.98 L487.50 368.80 L488.75 368.80 L488.75 368.62 L490.00 368.62 L490.00 368.43 L491.25 368.43 L491.25 368.25 L492.50 368.25 L492.50 368.07 L493.75 368.07 L493.75 367.88 L495.00 367.88 L495.00 367.70 L496.18 367.70 L496.18 367.49 L497.36 367.49 L497.36 367.28 L498.55 367.28 L498.55 367.07 L499.73 367.07 L499.73 366.86 L500.91 366.86 L500.91 366.65 L502.09 366.65 L502.09 366.45 L503.27 366.45 L503.27 366.24 L504.45 366.24 L504.45 366.03 L505.64 366.03 L505.64 365.82 L506.82 365.82 L506.82 365.61 L508.00 365.61 L508.00 365.40" fill="none" stroke="#3d863c" stroke-width="1.5" stroke-dasharray="1.4 5.70" stroke-dashoffset="0.00"/>
<path d="M348.30 386.50 L354.80 386.50 L354.80 363.80 L357.80 363.80 L357.80 352.90 L508.40 352.90" fill="none" stroke="#30a0c8" stroke-width="1.5" stroke-dasharray="6.5 5.4 1.3 6.1" stroke-dashoffset="12.50"/>
<path d="M348.30 386.50 L353.10 386.50 L355.00 385.00 L357.00 383.00 L360.00 381.00 L365.50 378.40 L376.30 375.30 L387.00 373.00 L397.80 371.80 L402.50 370.60 L410.60 369.80 L420.00 369.30 L435.00 367.60 L445.00 366.80 L460.00 365.60 L470.00 364.90 L480.00 364.30 L495.00 362.10 L510.00 361.50" fill="none" stroke="#4d2c5a" stroke-width="1.5" stroke-linejoin="round"/>
<text x="332.6" y="427.2" font-size="6.7" text-anchor="end" fill="#2c2c2c" font-weight="normal">N at risk</text>
<text x="332.6" y="437.8" font-size="6.7" text-anchor="end" fill="#2c2c2c" font-weight="normal">MRDneg/MRDneg</text>
<text x="348.50" y="437.8" font-size="6.8" text-anchor="middle" fill="#2c2c2c" font-weight="normal">798</text>
<text x="380.20" y="437.8" font-size="6.8" text-anchor="middle" fill="#2c2c2c" font-weight="normal">566</text>
<text x="411.60" y="437.8" font-size="6.8" text-anchor="middle" fill="#2c2c2c" font-weight="normal">405</text>
<text x="443.50" y="437.8" font-size="6.8" text-anchor="middle" fill="#2c2c2c" font-weight="normal">301</text>
<text x="475.20" y="437.8" font-size="6.8" text-anchor="middle" fill="#2c2c2c" font-weight="normal">215</text>
<text x="506.90" y="437.8" font-size="6.8" text-anchor="middle" fill="#2c2c2c" font-weight="normal">157</text>
<text x="332.6" y="448.2" font-size="6.7" text-anchor="end" fill="#2c2c2c" font-weight="normal">MRDneg/MRDpos</text>
<text x="348.50" y="448.2" font-size="6.8" text-anchor="middle" fill="#2c2c2c" font-weight="normal">1</text>
<text x="332.6" y="458.6" font-size="6.7" text-anchor="end" fill="#2c2c2c" font-weight="normal">MRDpos/MRDneg</text>
<text x="348.50" y="458.6" font-size="6.8" text-anchor="middle" fill="#2c2c2c" font-weight="normal">126</text>
<text x="380.20" y="458.6" font-size="6.8" text-anchor="middle" fill="#2c2c2c" font-weight="normal">58</text>
<text x="411.60" y="458.6" font-size="6.8" text-anchor="middle" fill="#2c2c2c" font-weight="normal">44</text>
<text x="443.50" y="458.6" font-size="6.8" text-anchor="middle" fill="#2c2c2c" font-weight="normal">32</text>
<text x="475.20" y="458.6" font-size="6.8" text-anchor="middle" fill="#2c2c2c" font-weight="normal">25</text>
<text x="506.90" y="458.6" font-size="6.8" text-anchor="middle" fill="#2c2c2c" font-weight="normal">18</text>
<text x="332.6" y="469" font-size="6.7" text-anchor="end" fill="#2c2c2c" font-weight="normal">MRDpos/MRDpos</text>
<text x="348.50" y="469" font-size="6.8" text-anchor="middle" fill="#2c2c2c" font-weight="normal">10</text>
<text x="380.20" y="469" font-size="6.8" text-anchor="middle" fill="#2c2c2c" font-weight="normal">1</text>
<text x="411.60" y="469" font-size="6.8" text-anchor="middle" fill="#2c2c2c" font-weight="normal">1</text>
<text x="443.50" y="469" font-size="6.8" text-anchor="middle" fill="#2c2c2c" font-weight="normal">1</text>
<text x="475.20" y="469" font-size="6.8" text-anchor="middle" fill="#2c2c2c" font-weight="normal">1</text>
<text x="506.90" y="469" font-size="6.8" text-anchor="middle" fill="#2c2c2c" font-weight="normal">1</text>
<line x1="346.9" y1="483.5" x2="363.4" y2="483.5" stroke="#4a2a58" stroke-width="1.45"/>
<line x1="346.59999999999997" y1="494.3" x2="363.4" y2="494.3" stroke="#a02848" stroke-width="1.3" stroke-dasharray="2.3 2.5"/>
<line x1="430.5" y1="483.5" x2="446.4" y2="483.5" stroke="#3d863c" stroke-width="1.1" stroke-dasharray="1 1.45" opacity="0.75"/>
<line x1="430.5" y1="494.3" x2="446.4" y2="494.3" stroke="#30a0c8" stroke-width="1.1" stroke-dasharray="3 1.5 1 1.5" opacity="0.75"/>
<text x="366.8" y="485.9" font-size="6.7" text-anchor="start" fill="#2a2a2a" font-weight="normal">MRDneg/MRDneg</text>
<text x="366.8" y="496.7" font-size="6.7" text-anchor="start" fill="#2a2a2a" font-weight="normal">MRDneg/MRDpos</text>
<text x="449.4" y="485.9" font-size="6.7" text-anchor="start" fill="#2a2a2a" font-weight="normal">MRDpos/MRDneg</text>
<text x="449.4" y="496.7" font-size="6.7" text-anchor="start" fill="#2a2a2a" font-weight="normal">MRDpos/MRDpos</text>
<rect x="0.5" y="0.5" width="519" height="504" fill="none" stroke="#525252" stroke-width="1"/>
</svg>
</body></html>
